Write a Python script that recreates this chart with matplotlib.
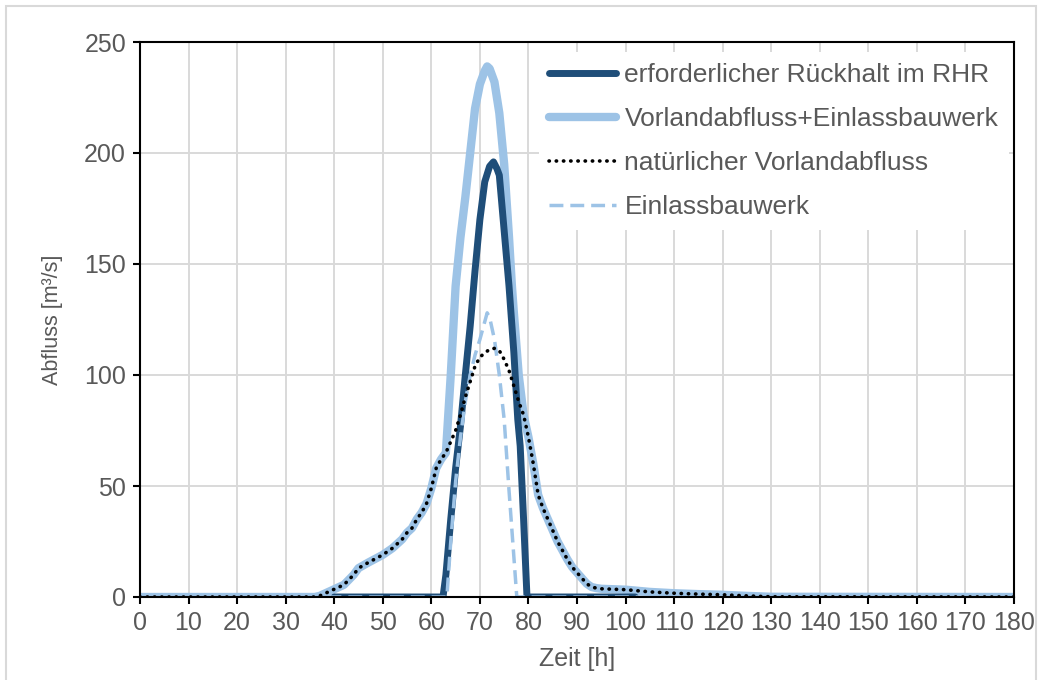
import numpy as np
import matplotlib.pyplot as plt
from matplotlib.patches import Rectangle

plt.rcParams['font.family'] = ['Liberation Sans', 'DejaVu Sans']

# natuerlicher Vorlandabfluss
t_nat = [0, 36, 37, 38, 40, 42, 44, 45, 47, 50, 52, 54, 55, 56, 57, 58, 59, 60, 61, 62,
         63, 64, 65, 66, 67, 68, 69, 70, 71, 72, 73, 74, 75, 76, 77, 78, 79, 80, 81, 82,
         83, 84, 85, 86, 87, 88, 89, 90, 91, 92, 93, 94, 95, 100, 105, 110, 115, 120, 125, 130, 180]
q_nat = [0, 0, 0.5, 1.5, 3.5, 5.5, 10, 13, 15.5, 19, 22, 26, 29, 31, 35, 38, 42, 49, 58, 62,
         65, 70, 75, 82, 90, 97, 104, 108, 110, 111.5, 112, 111, 107, 102, 95, 88, 82, 72, 60, 46,
         40, 35, 30, 25, 21, 17, 13.5, 11, 8.5, 6, 4.5, 4, 3.7, 3.3, 2.3, 1.7, 1.3, 1, 0.5, 0.1, 0]

# Einlassbauwerk
t_ein = [0, 63.2, 64, 65, 66, 67, 68, 69, 70, 71, 71.5, 72, 73, 74, 75, 76, 77, 77.6, 180]
q_ein = [0, 0, 25, 52, 72, 88, 100, 109, 116, 124, 128, 126, 116, 100, 80, 48, 18, 0, 0]

# Vorlandabfluss + Einlassbauwerk
t_sum = [0, 36, 37, 38, 40, 42, 44, 45, 47, 50, 52, 54, 55, 56, 57, 58, 59, 60, 61, 62,
         63, 64, 65, 66, 67, 68, 69, 70, 71, 71.5, 72, 73, 74, 75, 76, 76.6, 77, 78, 79, 80, 81, 82,
         83, 84, 85, 86, 87, 88, 89, 90, 91, 92, 93, 94, 95, 100, 105, 110, 115, 120, 125, 130, 180]
q_sum = [0, 0, 0.5, 1.5, 3.5, 5.5, 10, 13, 15.5, 19, 22, 26, 29, 31, 35, 38, 42, 49, 58, 62,
         65, 100, 140, 162, 180, 200, 220, 231, 237, 239, 238, 232, 218, 195, 162, 140, 128, 100, 82, 72, 60, 46,
         40, 35, 30, 25, 21, 17, 13.5, 11, 8.5, 6, 4.5, 4, 3.7, 3.3, 2.3, 1.7, 1.3, 1, 0.5, 0.1, 0]

# erforderlicher Rueckhalt im RHR
t_rhr = [40, 62.4, 63, 64, 65, 66, 67, 68, 69, 70, 71, 72, 72.8, 73.5, 74, 75, 76, 77, 77.8, 78.3, 79, 79.7, 102]
q_rhr = [0, 0, 10, 35, 58, 77, 100, 122, 147, 170, 187, 194, 196, 193, 190, 165, 140, 110, 80, 68, 35, 0, 0]

dark = '#1f4e79'
light = '#9dc3e6'
grey = '#595959'
fs = 18

fig = plt.figure(figsize=(10.42, 6.80), dpi=100)
ax = fig.add_axes([140 / 1042, 1 - 597 / 680, 874 / 1042, 555 / 680])

l_sum, = ax.plot(t_sum, q_sum, color=light, lw=6, solid_capstyle='round', solid_joinstyle='round', zorder=2)
l_rhr, = ax.plot(t_rhr, q_rhr, color=dark, lw=5, solid_capstyle='round', solid_joinstyle='round', zorder=3)
l_ein, = ax.plot(t_ein, q_ein, color=light, lw=2.5, ls=(0, (4, 2)), zorder=4)
l_nat, = ax.plot(t_nat, q_nat, color='black', lw=2.6, ls=(0, (0.1, 1.9)), dash_capstyle='round', zorder=5)

ax.set_xlim(0, 180)
ax.set_ylim(0, 250)
ax.set_xticks(np.arange(0, 181, 10))
ax.set_yticks(np.arange(0, 251, 50))
ax.grid(True, color='#d9d9d9', lw=1.4, zorder=0)
ax.set_axisbelow(True)
for s in ax.spines.values():
    s.set_color('black')
    s.set_linewidth(1.5)
    s.set_zorder(10)
ax.tick_params(direction='out', length=5, width=1.5, color='black', labelsize=fs, labelcolor=grey, pad=5)

ax.set_xlabel('Zeit [h]', fontsize=fs, color=grey, labelpad=9)
ax.set_ylabel('Abfluss [m³/s]', fontsize=15.5, color=grey, labelpad=15)

leg = ax.legend([l_rhr, l_sum, l_nat, l_ein],
                ['erforderlicher Rückhalt im RHR', 'Vorlandabfluss+Einlassbauwerk',
                 'natürlicher Vorlandabfluss', 'Einlassbauwerk'],
                loc='upper left', bbox_to_anchor=(0.441, 1.005), fontsize=19,
                frameon=True, fancybox=False, framealpha=1, edgecolor='none',
                handlelength=2.55, handletextpad=0.3, labelspacing=0.76, borderpad=0.4)
leg.get_frame().set_facecolor('white')
for txt in leg.get_texts():
    txt.set_color(grey)

fig.patches.append(Rectangle((6 / 1042, -0.01), 1030 / 1042, 1 - 6 / 680 + 0.01,
                             transform=fig.transFigure, fill=False, edgecolor='#d9d9d9', lw=1.5))

fig.savefig('out.png', dpi=100)
